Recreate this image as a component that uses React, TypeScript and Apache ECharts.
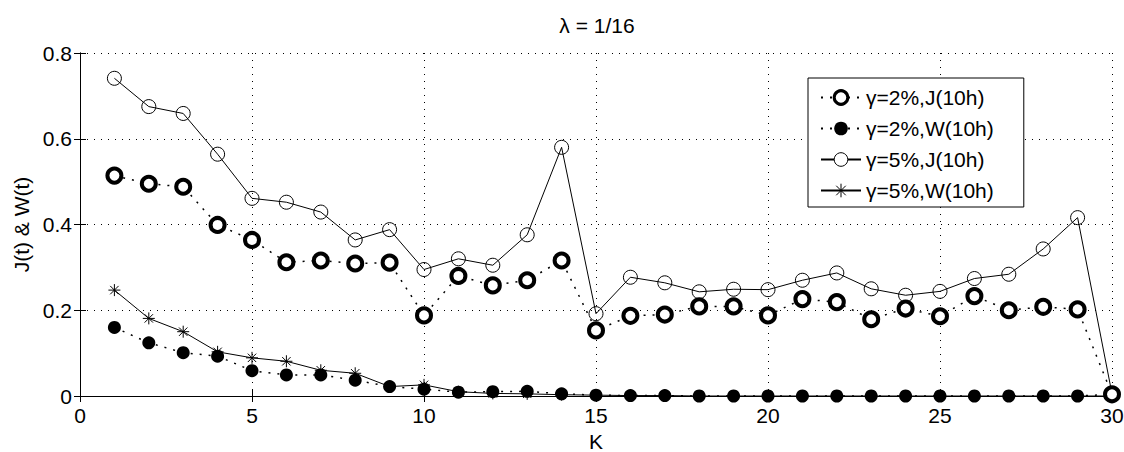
import React, { useEffect, useRef } from "react";
import * as echarts from "echarts";

const K = [1, 2, 3, 4, 5, 6, 7, 8, 9, 10, 11, 12, 13, 14, 15, 16, 17, 18, 19, 20, 21, 22, 23, 24, 25, 26, 27, 28, 29, 30];
const j2 = [0.514, 0.495, 0.488, 0.399, 0.364, 0.312, 0.316, 0.309, 0.311, 0.188, 0.280, 0.258, 0.270, 0.316, 0.153, 0.187, 0.190, 0.209, 0.209, 0.188, 0.226, 0.219, 0.179, 0.204, 0.186, 0.233, 0.200, 0.208, 0.202, 0.004];
const w2 = [0.160, 0.124, 0.101, 0.093, 0.059, 0.049, 0.049, 0.037, 0.022, 0.016, 0.009, 0.010, 0.011, 0.005, 0.002, 0.001, 0.001, 0, 0, 0, 0, 0, 0, 0, 0, 0, 0, 0, 0, 0.004];
const j5 = [0.741, 0.675, 0.659, 0.564, 0.461, 0.452, 0.429, 0.364, 0.388, 0.295, 0.320, 0.305, 0.376, 0.580, 0.192, 0.277, 0.264, 0.243, 0.249, 0.248, 0.270, 0.287, 0.250, 0.235, 0.244, 0.274, 0.284, 0.343, 0.416, 0.005];
const w5 = [0.247, 0.181, 0.150, 0.103, 0.089, 0.081, 0.060, 0.053, 0.022, 0.026, 0.010, 0.006, 0.005, 0.003, 0.002, 0.001, 0.001, 0, 0, 0, 0, 0, 0, 0, 0, 0, 0, 0, 0, 0];
const names = ["γ=2%,J(10h)", "γ=2%,W(10h)", "γ=5%,J(10h)", "γ=5%,W(10h)"];
const titleText = "λ = 1/16";
const xName = "K";
const yName = "J(t) & W(t)";

const FONT = "'Liberation Sans', Arial, Helvetica, sans-serif";
const STAR = "path://M5 0 L5 10 M0 5 L10 5 M1.5 1.5 L8.5 8.5 M8.5 1.5 L1.5 8.5";

const pts = (arr: number[]) => arr.map((v, i) => [K[i], v]);

export default function App() {
  const ref = useRef<HTMLDivElement>(null);
  useEffect(() => {
    if (!ref.current) return;
    const chart = echarts.init(ref.current, null, { renderer: "svg" });
    const axisCommon = {
      axisLine: { show: true, lineStyle: { color: "#000", width: 1 } },
      axisTick: { show: true, inside: true, length: 6, lineStyle: { color: "#000" } },
    };
    chart.setOption({
      animation: false,
      backgroundColor: "#fff",
      textStyle: { fontFamily: FONT },
      graphic: [
        {
          type: "text",
          x: 597,
          y: 25,
          style: {
            text: titleText,
            align: "center",
            verticalAlign: "middle",
            fontSize: 21,
            fontFamily: FONT,
            fill: "#000",
          },
        },
      ],
      grid: { left: 80, right: 12, top: 53, bottom: 56, show: false, containLabel: false, outerBoundsMode: "none" },
      legend: {
        orient: "vertical",
        left: 808,
        top: 78,
        backgroundColor: "#fff",
        borderColor: "#000",
        borderWidth: 1,
        borderRadius: 0,
        padding: [9, 30, 6, 12],
        itemWidth: 40,
        itemHeight: 17,
        itemGap: 10,
        textStyle: { fontSize: 21, fontFamily: FONT, color: "#000", lineHeight: 20 },
        data: [
          { name: names[0], itemStyle: { borderWidth: 3, borderColor: "#000", color: "#fff" } },
          { name: names[1], itemStyle: { borderWidth: 0, color: "#000" } },
          { name: names[2], itemStyle: { borderWidth: 1, borderColor: "#000", color: "#fff" } },
          { name: names[3], itemStyle: { borderWidth: 1, borderColor: "#000", color: "none" } },
        ],
      },
      xAxis: [
        {
          type: "value",
          min: 0,
          max: 30,
          interval: 5,
          position: "bottom",
          ...axisCommon,
          axisLabel: { fontSize: 21, color: "#000", margin: 9, fontFamily: FONT },
          splitLine: { show: true, lineStyle: { color: "#000", type: [1, 6], width: 1 } },
          name: xName,
          nameLocation: "middle",
          nameGap: 32,
          nameTextStyle: { fontSize: 21, lineHeight: 21, color: "#000", fontFamily: FONT },
        },
        {
          type: "value",
          min: 0,
          max: 30,
          interval: 5,
          position: "top",
          ...axisCommon,
          axisLabel: { show: false },
          splitLine: { show: false },
        },
      ],
      yAxis: [
        {
          type: "value",
          min: 0,
          max: 0.8,
          interval: 0.2,
          position: "left",
          ...axisCommon,
          axisLabel: { fontSize: 21, color: "#000", margin: 8, fontFamily: FONT },
          splitLine: { show: true, lineStyle: { color: "#000", type: [1, 6], width: 1 } },
          name: yName,
          nameLocation: "middle",
          nameGap: 47,
          nameTextStyle: { fontSize: 21, color: "#000", fontFamily: FONT },
        },
        {
          type: "value",
          min: 0,
          max: 0.8,
          interval: 0.2,
          position: "right",
          ...axisCommon,
          axisLabel: { show: false },
          splitLine: { show: false },
        },
      ],
      series: [
        {
          name: names[0],
          type: "line",
          data: pts(j2),
          symbol: "circle",
          symbolSize: 14,
          showAllSymbol: true,
          itemStyle: { color: "#fff", borderColor: "#000", borderWidth: 4 },
          lineStyle: { color: "#000", width: 1.5, type: [2, 7] },
          z: 4,
        },
        {
          name: names[1],
          type: "line",
          data: pts(w2),
          symbol: "circle",
          symbolSize: 13,
          showAllSymbol: true,
          itemStyle: { color: "#000", borderWidth: 0 },
          lineStyle: { color: "#000", width: 1.5, type: [2, 7] },
          z: 3,
        },
        {
          name: names[2],
          type: "line",
          data: pts(j5),
          symbol: "circle",
          symbolSize: 14,
          showAllSymbol: true,
          itemStyle: { color: "rgba(255,255,255,0)", borderColor: "#000", borderWidth: 1 },
          lineStyle: { color: "#000", width: 1 },
          z: 2,
        },
        {
          name: names[3],
          type: "line",
          data: pts(w5),
          symbol: STAR,
          symbolSize: 12,
          showAllSymbol: true,
          itemStyle: { color: "none", borderColor: "#000", borderWidth: 1 },
          lineStyle: { color: "#000", width: 1 },
          z: 2,
        },
      ],
    });
    return () => chart.dispose();
  }, []);
  return (
    <div
      ref={ref}
      style={{ position: "absolute", left: 0, top: 0, width: 1124, height: 452, background: "#fff" }}
    />
  );
}
